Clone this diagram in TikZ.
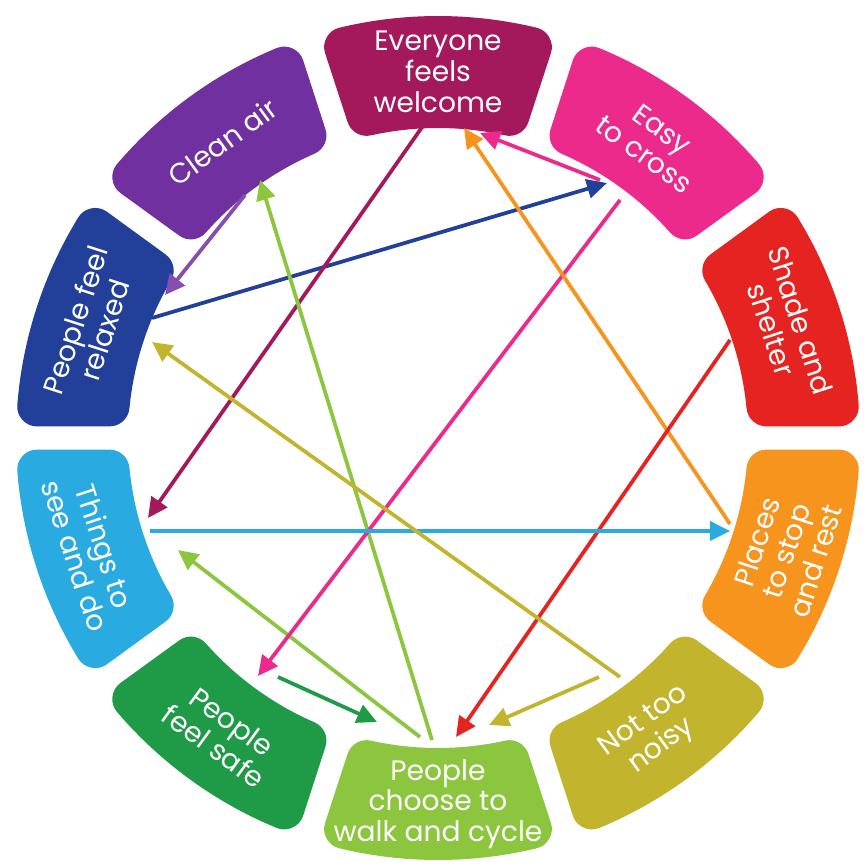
\documentclass[tikz,border=0pt]{standalone}
\usepackage{fontspec}
\setmainfont{Poppins}
\usetikzlibrary{arrows.meta}

\definecolor{welcomec}{HTML}{A3195B}
\definecolor{crossc}{HTML}{EC2A8B}
\definecolor{shadec}{HTML}{E52421}
\definecolor{restc}{HTML}{F7941D}
\definecolor{noisyc}{HTML}{C2B52D}
\definecolor{walkc}{HTML}{8CC63F}
\definecolor{safec}{HTML}{1F9A47}
\definecolor{thingsc}{HTML}{29ABE2}
\definecolor{relaxedc}{HTML}{223F99}
\definecolor{airc}{HTML}{70309F}

\tikzset{
  sector/.style={line width=8mm, line join=round},
  tagtext/.style={text=white, align=center, font=\fontsize{16}{17.5}\selectfont},
  link/.style={line width=0.75mm, -{Triangle[length=4mm, width=3.8mm]}}
}

\begin{document}
\begin{tikzpicture}[x=0.2mm, y=0.2mm]

\useasboundingbox (-438, -427) rectangle (426, 438);

% inset sectors, a wide round-joined stroke gives the rounded corners
\foreach \a/\col/\n/\txt in {
    90/welcomec/welcome/{Everyone\\feels\\welcome},
    54/crossc/cross/{Easy\\to cross},
    18/shadec/shade/{Shade and\\shelter},
    -18/restc/rest/{Places\\to stop\\and rest},
    -54/noisyc/noisy/{Not too\\noisy},
    -90/walkc/walk/{People\\choose to\\walk and cycle},
    -126/safec/safe/{People\\feel safe},
    -162/thingsc/things/{Things to\\see and do},
    162/relaxedc/relaxed/{People feel\\relaxed},
    126/airc/air/{Clean air}}
{
  \filldraw [sector, color=\col] (\a-12.5:330) -- (\a-13.5:402)
    arc [start angle=\a-13.5, end angle=\a+13.5, radius=402]
    -- (\a+12.5:330)
    arc [start angle=\a+12.5, end angle=\a-12.5, radius=330] -- cycle;
  \pgfmathsetmacro{\rot}{\a>0 ? \a-90 : \a+90}
  \node [tagtext, rotate=\rot] (\n) at (\a:366) {\txt};
}

\coordinate (relaxed1) at (-286, 120);  \coordinate (cross1) at (169, 255);
\coordinate (air1) at (-193, 243);      \coordinate (relaxed2) at (-273, 143);
\coordinate (welcome1) at (-13, 315);   \coordinate (things1) at (-290, -80);
\coordinate (walk1) at (-6, -302);      \coordinate (air2) at (-178, 258);
\coordinate (walk2) at (-18, -299);     \coordinate (things2) at (-260, -112);
\coordinate (cross2) at (162, 258);     \coordinate (welcome2) at (42, 305);
\coordinate (cross3) at (182, 238);     \coordinate (safe1) at (-180, -238);
\coordinate (rest1) at (292, -86);      \coordinate (welcome3) at (26, 310);
\coordinate (shade1) at (292, 98);      \coordinate (walk3) at (18, -299);
\coordinate (things3) at (-288, -93);   \coordinate (rest2) at (292, -93);
\coordinate (noisy1) at (182, -239);    \coordinate (relaxed3) at (-286, 96);
\coordinate (noisy2) at (161, -239);    \coordinate (walk4) at (51, -287);
\coordinate (safe2) at (-160, -239);    \coordinate (walk5) at (-61, -284);

\draw [link, color=relaxedc] (relaxed1) -- (cross1);
\draw [link, color=airc!85] (air1) -- (relaxed2);
\draw [link, color=welcomec] (welcome1) -- (things1);
\draw [link, color=walkc] (walk1) -- (air2);
\draw [link, color=walkc] (walk2) -- (things2);
\draw [link, color=crossc] (cross2) -- (welcome2);
\draw [link, color=crossc] (cross3) -- (safe1);
\draw [link, color=restc] (rest1) -- (welcome3);
\draw [link, color=shadec] (shade1) -- (walk3);
\draw [link, color=thingsc] (things3) -- (rest2);
\draw [link, color=noisyc] (noisy1) -- (relaxed3);
\draw [link, color=noisyc] (noisy2) -- (walk4);
\draw [link, color=safec] (safe2) -- (walk5);

\end{tikzpicture}
\end{document}
